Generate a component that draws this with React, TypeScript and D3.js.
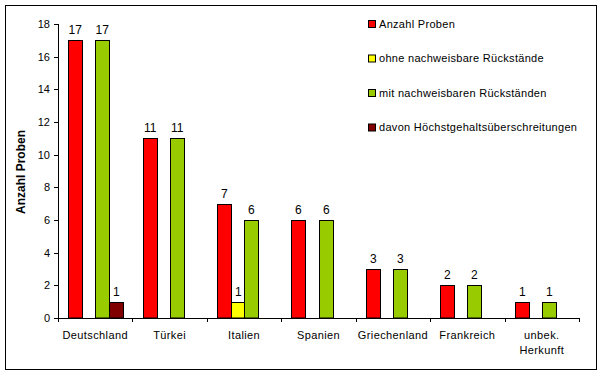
import React from "react";
import * as d3 from "d3";

const categories = ["Deutschland", "Türkei", "Italien", "Spanien", "Griechenland", "Frankreich", "unbek.\nHerkunft"];
const seriesNames = ["Anzahl Proben", "ohne nachweisbare Rückstände", "mit nachweisbaren Rückständen", "davon Höchstgehaltsüberschreitungen"];
const anzahl = [17, 11, 7, 6, 3, 2, 1];
const ohne = [0, 0, 1, 0, 0, 0, 0];
const mit = [17, 11, 6, 6, 3, 2, 1];
const davon = [1, 0, 0, 0, 0, 0, 0];
const colors = ["#FF0000", "#FFFF00", "#99CC00", "#800000"];
const yTicks = [0, 2, 4, 6, 8, 10, 12, 14, 16, 18];

export default function App() {
  const W = 605, H = 377;
  const left = 58, right = 579, top = 24, bottom = 318;
  const series = [anzahl, ohne, mit, davon];
  const x = d3.scaleBand().domain(categories).range([left, right]).paddingInner(0).paddingOuter(0);
  const y = d3.scaleLinear().domain([0, 18]).range([bottom, top]);
  const bw = x.bandwidth();
  const slot = bw / 5.5;
  const inner = d3.scaleBand().domain(seriesNames).range([slot * 0.75, slot * 4.75]);
  const font = "'Liberation Sans', Arial, sans-serif";

  return (
    <svg width={W} height={H} style={{ position: "absolute", left: 0, top: 0 }} fontFamily={font}>
      <rect x={5.5} y={5.5} width={591} height={364} fill="white" stroke="black" strokeWidth={1} />
      {/* bars */}
      {series.map((vals, si) =>
        vals.map((v, ci) => {
          if (v === 0) return null;
          const bx = Math.round((x(categories[ci]) as number) + (inner(seriesNames[si]) as number)) + 0.5;
          const by = Math.round(y(v)) + 0.5;
          return (
            <g key={`${si}-${ci}`}>
              <rect x={bx} y={by} width={Math.round(inner.bandwidth())} height={bottom - by} fill={colors[si]} stroke="black" strokeWidth={1} />
              <text x={bx + inner.bandwidth() / 2} y={by - 7} textAnchor="middle" fontSize={12} fill="black">{v}</text>
            </g>
          );
        })
      )}
      {/* y axis */}
      <line x1={left + 0.5} x2={left + 0.5} y1={top} y2={bottom} stroke="black" />
      {yTicks.map((t) => (
        <g key={t}>
          <line x1={left - 4} x2={left} y1={Math.round(y(t)) + 0.5} y2={Math.round(y(t)) + 0.5} stroke="black" />
          <text x={left - 8} y={y(t)} dy="0.35em" textAnchor="end" fontSize={11}>{t}</text>
        </g>
      ))}
      {/* x axis */}
      <line x1={left} x2={right + 0.5} y1={bottom + 0.5} y2={bottom + 0.5} stroke="black" />
      {categories.map((c, i) => (
        <line key={"t" + i} x1={Math.round(x(c) as number) + 0.5} x2={Math.round(x(c) as number) + 0.5} y1={bottom} y2={bottom + 4} stroke="black" />
      ))}
      <line x1={right + 0.5} x2={right + 0.5} y1={bottom} y2={bottom + 4} stroke="black" />
      {categories.map((c, i) => {
        const lines = c.split("\n");
        return (
          <text key={"c" + i} x={(x(c) as number) + bw / 2} y={339} textAnchor="middle" fontSize={11} letterSpacing={0.4}>
            {lines.map((l, li) => (
              <tspan key={li} x={(x(c) as number) + bw / 2} dy={li === 0 ? 0 : 15}>{l}</tspan>
            ))}
          </text>
        );
      })}
      <text transform="translate(25,172) rotate(-90)" textAnchor="middle" fontSize={12} fontWeight="bold">Anzahl Proben</text>
      {/* legend */}
      {seriesNames.map((n, i) => (
        <g key={n} transform={`translate(368, ${24 + i * 34.5})`}>
          <rect x={0.5} y={-3.5} width={7} height={7} fill={colors[i]} stroke="black" />
          <text x={11} y={0} dy="0.35em" fontSize={11} letterSpacing={0.3}>{n}</text>
        </g>
      ))}
    </svg>
  );
}
